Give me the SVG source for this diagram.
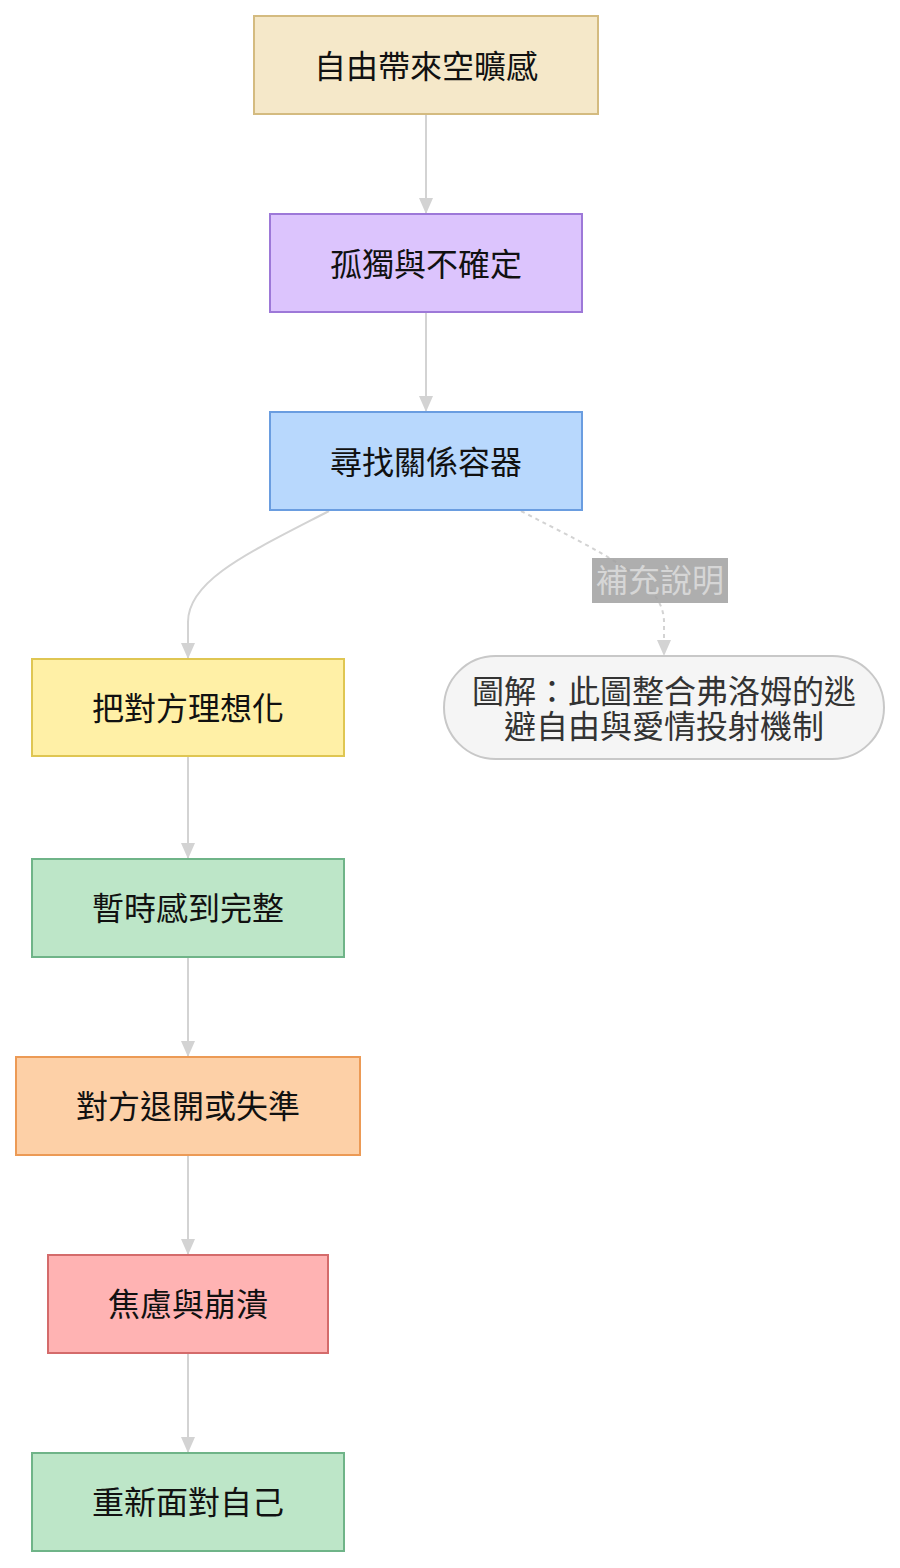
<svg xmlns="http://www.w3.org/2000/svg" width="900" height="1568" viewBox="0 0 900 1568">
<style>
.n{stroke-width:2}
.t{font-family:"Noto Sans CJK TC","Noto Sans CJK SC",sans-serif;font-size:32px;fill:#111;text-anchor:middle;dominant-baseline:central}
.e{fill:none;stroke:#d3d3d3;stroke-width:2}
.d{stroke-dasharray:4 4}
</style>
<defs>
<marker id="ah" viewBox="0 0 16 14" refX="16" refY="7" markerWidth="16" markerHeight="14" markerUnits="userSpaceOnUse" orient="auto">
<path d="M0,0 L16,7 L0,14 Z" fill="#d3d3d3"/>
</marker>
</defs>
<rect width="900" height="1568" fill="#ffffff"/>
<g id="edges">
<path class="e" d="M426,114 L426,214" marker-end="url(#ah)"/>
<path class="e" d="M426,312 L426,412" marker-end="url(#ah)"/>
<path class="e" d="M329,511 C250,552 188,580 188,622 L188,659" marker-end="url(#ah)"/>
<path class="e d" d="M521,511 C600,552 664,580 664,622 L664,656" marker-end="url(#ah)"/>
<path class="e" d="M188,756 L188,859" marker-end="url(#ah)"/>
<path class="e" d="M188,957 L188,1057" marker-end="url(#ah)"/>
<path class="e" d="M188,1155 L188,1255" marker-end="url(#ah)"/>
<path class="e" d="M188,1353 L188,1453" marker-end="url(#ah)"/>
<g id="edge-label">
<rect x="592" y="558" width="136" height="45" fill="#a0a0a0" fill-opacity="0.85"/>
<text x="660" y="578" class="t" style="fill:#d6d6d6">補充說明</text>
</g>
</g>
<g id="n1"><rect class="n" x="254" y="16" width="344" height="98" fill="#f5e8c9" stroke="#d4bb80"/><text class="t" x="426" y="64">自由帶來空曠感</text></g>
<g id="n2"><rect class="n" x="270" y="214" width="312" height="98" fill="#dcc4fd" stroke="#9d78d8"/><text class="t" x="426" y="262">孤獨與不確定</text></g>
<g id="n3"><rect class="n" x="270" y="412" width="312" height="98" fill="#b8d8fd" stroke="#6a9de0"/><text class="t" x="426" y="460">尋找關係容器</text></g>
<g id="n4"><rect class="n" x="32" y="659" width="312" height="97" fill="#fff0a6" stroke="#dfc652"/><text class="t" x="188" y="706">把對方理想化</text></g>
<g id="note"><rect class="n" x="444" y="656" width="440" height="103" rx="51.5" fill="#f5f5f5" stroke="#c8c8c8"/><text class="t" style="fill:#333"><tspan x="664" y="689">圖解：此圖整合弗洛姆的逃</tspan><tspan x="664" y="724">避自由與愛情投射機制</tspan></text></g>
<g id="n5"><rect class="n" x="32" y="859" width="312" height="98" fill="#bde6c8" stroke="#6fb488"/><text class="t" x="188" y="906">暫時感到完整</text></g>
<g id="n6"><rect class="n" x="16" y="1057" width="344" height="98" fill="#fdd0a7" stroke="#ec9a55"/><text class="t" x="188" y="1104">對方退開或失準</text></g>
<g id="n7"><rect class="n" x="48" y="1255" width="280" height="98" fill="#ffb3b3" stroke="#d46b6b"/><text class="t" x="188" y="1302">焦慮與崩潰</text></g>
<g id="n8"><rect class="n" x="32" y="1453" width="312" height="98" fill="#bde6c8" stroke="#6fb488"/><text class="t" x="188" y="1500">重新面對自己</text></g>
</svg>
